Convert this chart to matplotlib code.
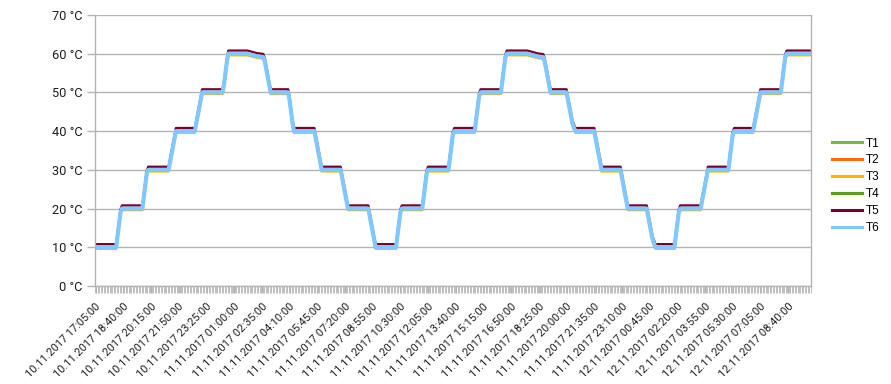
import matplotlib
matplotlib.use("Agg")
import matplotlib.pyplot as plt
from matplotlib.ticker import FixedLocator, FuncFormatter
import numpy as np

# ---- data ----
plateau_levels = [10, 20, 30, 40, 50, 60, 50, 40, 30, 20, 10, 20, 30, 40, 50, 60,
                  50, 40, 30, 20, 10, 20, 30, 40, 50, 60]
plateau_lengths = [15, 15, 15, 14, 15, 14, 13, 15, 14, 15, 15, 15, 15, 15, 15, 15,
                   12, 14, 14, 14, 14, 15, 15, 14, 15, 17]
ramps = [
    [13, 16, 19],
    [23, 26, 29],
    [32, 34, 36, 38],
    [42, 44, 46, 48],
    [52, 55, 58],
    [59.9, 59.8, 59.7, 59.6, 59.5, 59.4, 59.3, 59.3, 59.2, 59.2, 59.1, 58, 56, 54, 52],
    [48, 45, 42],
    [38, 36, 34, 32],
    [28, 26, 24, 22],
    [18, 16, 14, 12],
    [13, 16, 19],
    [23, 26, 29],
    [33, 36, 39],
    [43, 46, 49],
    [53, 56, 59],
    [59.9, 59.8, 59.7, 59.6, 59.5, 59.4, 59.3, 59.2, 59.2, 59.1, 59.1, 58, 56, 54, 52],
    [48, 46, 44, 42, 41],
    [38, 36, 34, 32],
    [28, 26, 24, 22],
    [18, 16, 14, 12, 11],
    [13, 16, 19],
    [22, 24, 26, 28],
    [33, 36, 39],
    [42, 44, 46, 48],
    [53, 56, 59],
    [],
]
series_names = ["T1", "T2", "T3", "T4", "T5", "T6"]
series_offsets = [-0.1, -0.2, -0.4, -0.1, 0.8, 0.0]
series_colors = ["#7cb83c", "#ff6a10", "#ffb400", "#5c9e20", "#7b0028", "#80c8ff"]
series_widths = [1.7, 1.7, 1.7, 1.7, 1.7, 3.0]

tick_labels = [
    "10.11.2017 17:05:00", "10.11.2017 18:40:00", "10.11.2017 20:15:00",
    "10.11.2017 21:50:00", "10.11.2017 23:25:00", "11.11.2017 01:00:00",
    "11.11.2017 02:35:00", "11.11.2017 04:10:00", "11.11.2017 05:45:00",
    "11.11.2017 07:20:00", "11.11.2017 08:55:00", "11.11.2017 10:30:00",
    "11.11.2017 12:05:00", "11.11.2017 13:40:00", "11.11.2017 15:15:00",
    "11.11.2017 16:50:00", "11.11.2017 18:25:00", "11.11.2017 20:00:00",
    "11.11.2017 21:35:00", "11.11.2017 23:10:00", "12.11.2017 00:45:00",
    "12.11.2017 02:20:00", "12.11.2017 03:55:00", "12.11.2017 05:30:00",
    "12.11.2017 07:05:00", "12.11.2017 08:40:00",
]
label_step = 19

# ---- build profile ----
base = []
for lvl, n, r in zip(plateau_levels, plateau_lengths, ramps):
    base.extend([lvl] * n)
    base.extend(r)
base = np.array(base, dtype=float)
n_pts = len(base)
x = np.arange(n_pts)

plt.rcParams['font.family'] = ['Liberation Sans Narrow', 'Roboto', 'DejaVu Sans']

fig = plt.figure(figsize=(8.91, 3.84), dpi=100)
ax = fig.add_axes([95 / 891, 1 - 286 / 384, (810.7 - 95) / 891, (286 - 15) / 384])

lines = []
for name, off, col, lw in zip(series_names, series_offsets, series_colors, series_widths):
    ln, = ax.plot(x, base + off, color=col, lw=lw, label=name, solid_joinstyle='round')
    lines.append(ln)

ax.set_xlim(-0.5, n_pts - 0.5)
ax.set_ylim(0, 70)

grid_col = "#b4b4b4"
ax.set_yticks(np.arange(0, 71, 10))
ax.yaxis.set_major_formatter(FuncFormatter(lambda v, p: f"{int(v)} °C"))
ax.grid(axis='y', color=grid_col, lw=1.0)
ax.set_axisbelow(True)

pos = [i * label_step for i in range(len(tick_labels))]
ax.xaxis.set_major_locator(FixedLocator(pos))
ax.set_xticklabels(tick_labels, rotation=45, ha='right', va='top', rotation_mode='anchor')
ax.xaxis.set_minor_locator(FixedLocator(np.arange(-0.5, n_pts, 1.0)))

ax.spines['top'].set_visible(False)
for s in ['left', 'right', 'bottom']:
    ax.spines[s].set_color(grid_col)
    ax.spines[s].set_linewidth(1.0)

txt_col = "#1e1e1e"
ax.tick_params(axis='y', length=6, color=grid_col, width=1.0, pad=3, labelsize=9, labelcolor=txt_col)
ax.tick_params(axis='x', which='major', length=5, color=grid_col, width=0.8, pad=6,
               labelsize=8.3, labelcolor=txt_col)
ax.tick_params(axis='x', which='minor', length=5, color=grid_col, width=0.6)

# fit label font sizes to the widths measured on the reference
fig.canvas.draw()
r = fig.canvas.get_renderer()
xl = ax.get_xticklabels()[1]
L = xl.get_window_extent(r).width * np.sqrt(2) - xl.get_window_extent(r).height * 0.0
# diagonal length of rotated label ~ (w + h)/sqrt2 ; use unrotated measure instead
tmp = fig.text(0, 0, tick_labels[1], fontsize=8.3)
w_unrot = tmp.get_window_extent(r).width
tmp.remove()
xs = 8.3 * 100.0 / w_unrot
for t in ax.get_xticklabels():
    t.set_fontsize(xs)
tmp = fig.text(0, 0, "70 °C", fontsize=9)
wy = tmp.get_window_extent(r).width
tmp.remove()
ys = 9 * 30.5 / wy
for t in ax.get_yticklabels():
    t.set_fontsize(ys)

leg = fig.legend(handles=lines, loc='upper left',
                 bbox_to_anchor=(832 / 891, 1 - 137.5 / 384),
                 frameon=False, borderpad=0, borderaxespad=0,
                 handlelength=2.55, handletextpad=0.35, labelspacing=0.42,
                 prop={'family': 'Liberation Sans', 'size': 8.5})
for h in leg.legend_handles:
    h.set_linewidth(2.2)

fig.savefig("out.png", dpi=100)
